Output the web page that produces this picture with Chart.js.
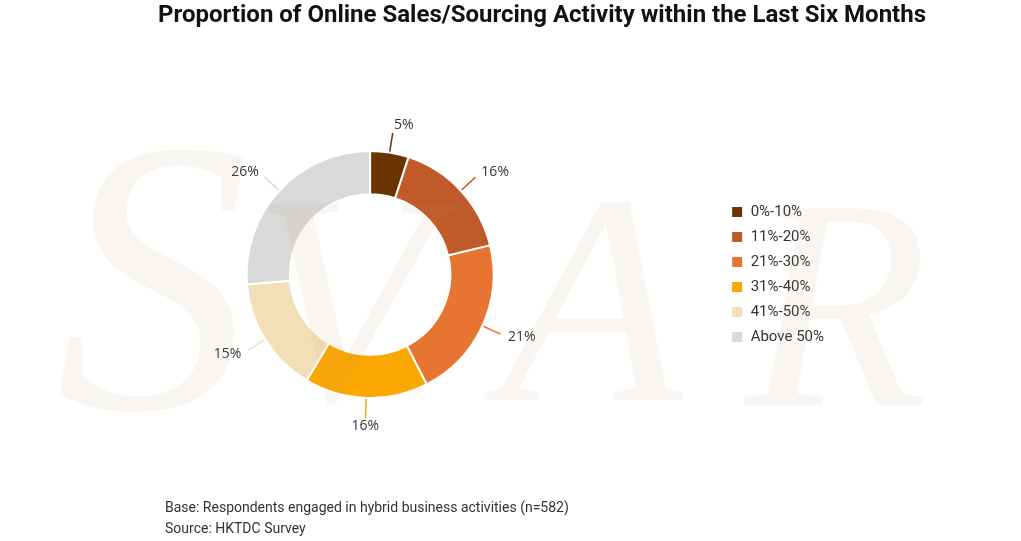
<!DOCTYPE html>
<html>
<head>
<meta charset="utf-8">
<script src="https://cdn.jsdelivr.net/npm/chart.js@4.4.1/dist/chart.umd.min.js"></script>
<style>
  html, body { margin: 0; padding: 0; background: #fff; }
  #wrap { position: relative; width: 1021px; height: 541px; overflow: hidden; }
  #c { position: absolute; left: 0; top: 0; }
  #title { position: absolute; left: 158px; top: 0; font: bold 24px Roboto, sans-serif; line-height: 28px; color: #111; white-space: nowrap; }
  #foot { position: absolute; left: 165px; top: 497px; font: 14px Roboto, sans-serif; line-height: 21px; color: #333; }
</style>
</head>
<body>
<div id="wrap">
  <canvas id="c" width="1021" height="541"></canvas>
  <div id="title">Proportion of Online Sales/Sourcing Activity within the Last Six Months</div>
  <div id="foot">Base: Respondents engaged in hybrid business activities (n=582)<br>Source: HKTDC Survey</div>
</div>
<script>
// data
var categories = ['0%-10%', '11%-20%', '21%-30%', '31%-40%', '41%-50%', 'Above 50%'];
var shares = [5, 16, 21, 16, 15, 26];
var colors = ['#6a3400', '#c05a28', '#e87432', '#fba700', '#f3dfb7', '#d9d9d9'];

// leader lines + labels outside the ring
var outLabels = {
  id: 'outLabels',
  afterDatasetsDraw: function (chart) {
    var ctx = chart.ctx;
    var meta = chart.getDatasetMeta(0);
    ctx.save();
    ctx.font = '14px "Open Sans", sans-serif';
    ctx.fillStyle = '#333';
    ctx.textBaseline = 'middle';
    meta.data.forEach(function (arc, i) {
      var p = arc.getProps(['x', 'y', 'startAngle', 'endAngle', 'outerRadius'], true);
      var a = (p.startAngle + p.endAngle) / 2;
      var cx = Math.cos(a), sy = Math.sin(a);
      ctx.strokeStyle = colors[i];
      ctx.lineWidth = 1.5;
      ctx.beginPath();
      ctx.moveTo(p.x + cx * (p.outerRadius + 1), p.y + sy * (p.outerRadius + 1));
      ctx.lineTo(p.x + cx * (p.outerRadius + 20), p.y + sy * (p.outerRadius + 20));
      ctx.stroke();
      var r2 = p.outerRadius + 28;
      ctx.textAlign = cx > 0.1 ? 'left' : (cx < -0.1 ? 'right' : 'center');
      ctx.fillText(shares[i] + '%', p.x + cx * r2, p.y + sy * r2);
    });
    ctx.restore();
  }
};

// faint watermark over the whole picture
var watermark = {
  id: 'watermark',
  afterDraw: function (chart) {
    var ctx = chart.ctx;
    ctx.save();
    ctx.fillStyle = 'rgba(190,150,100,0.09)';
    ctx.textBaseline = 'alphabetic';
    ctx.textAlign = 'left';
    ctx.font = 'italic 390px "Liberation Serif", serif';
    ctx.fillText('S', 55, 408);
    ctx.font = 'italic 300px "Liberation Serif", serif';
    ctx.fillText('V', 250, 400);
    ctx.fillText('A', 500, 400);
    ctx.fillText('R', 745, 405);
    ctx.restore();
  }
};

new Chart(document.getElementById('c'), {
  type: 'doughnut',
  data: {
    labels: categories,
    datasets: [{
      data: shares,
      backgroundColor: colors,
      borderColor: '#fff',
      borderWidth: 2,
      hoverOffset: 0
    }]
  },
  options: {
    responsive: false,
    animation: false,
    cutout: '65%',
    layout: { padding: { top: 150, bottom: 142, left: 19, right: 187 } },
    plugins: {
      legend: {
        position: 'right',
        labels: {
          boxWidth: 12, boxHeight: 12, padding: 10,
          color: '#333',
          font: { family: 'Roboto', size: 15 }
        }
      },
      tooltip: { enabled: false },
      title: { display: false }
    }
  },
  plugins: [outLabels, watermark]
});
</script>
</body>
</html>
